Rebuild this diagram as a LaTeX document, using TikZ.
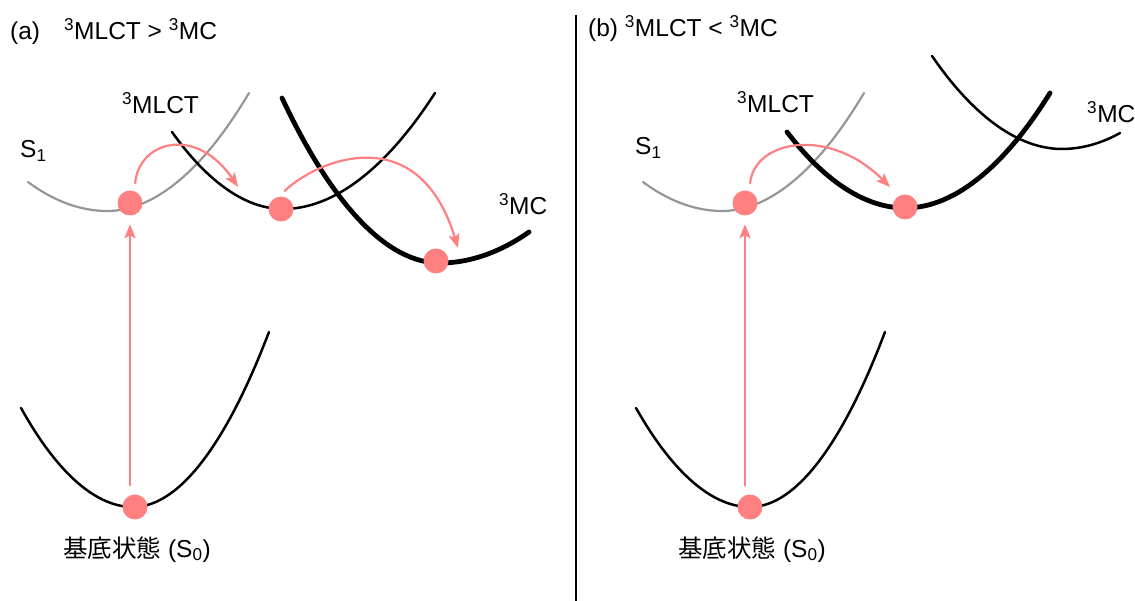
\documentclass[tikz,border=0pt]{standalone}
\usepackage{fontspec}
\setmainfont{Liberation Sans}
\newfontfamily\cjk{Noto Sans CJK JP}
\usetikzlibrary{arrows.meta}
\definecolor{salmon}{RGB}{255,128,128}
\definecolor{curvegray}{RGB}{150,150,150}
\begin{document}
\begin{tikzpicture}[x=1pt,y=-1pt,font=\fontsize{24.5}{28}\selectfont,line join=round,line cap=round,>={Stealth[length=14pt,width=11pt,inset=3pt]},
	ball/.style={circle,fill=salmon,minimum size=25pt,inner sep=0pt},
	txt/.style={inner sep=0pt,anchor=base west},
	jump/.style={salmon,line width=2.2pt,->},
	pesgray/.style={curvegray,line width=2.2pt},
	pesthin/.style={black,line width=2.5pt},
	pesthick/.style={black,line width=4.8pt}]
	\useasboundingbox (0,0) rectangle (1135,601);
	% (a)
	\path
	(130,203) coordinate (S1a)
	(281,209) coordinate (MLa)
	(436,261) coordinate (MCa)
	(135,507) coordinate (S0a)
	(238,187) coordinate (tipA1)
	(458,248) coordinate (tipA2)
	;
	\draw[pesgray] (28,182) parabola bend (107,211) (249,93);
	\draw[pesthin] (172,132) parabola bend (283,209) (435,93);
	\draw[pesthick] (282,98) parabola bend (440,263) (529,232);
	\draw[pesthin] (21,408) parabola bend (133,507) (269,332);
	\foreach \p in {S1a,MLa,MCa,S0a}
	\node[ball] (d\p) at (\p) {};
	\draw[jump,line width=2.6pt,shorten <=9pt,shorten >=8.5pt] (dS0a.north -| dS1a) -- (dS1a.south);
	\draw[jump,shorten <=8pt] (dS1a.70) .. controls +(5,-51) and +(-41,-61) .. (tipA1);
	\draw[jump,shorten <=8pt] (dMLa.100) .. controls +(40,-38) and +(-39,-129) .. (tipA2);
	\node[txt] (tagA) at (10,40) {(a)};
	\node[txt] (titleA) at (64,40) {\textsuperscript{3}MLCT > \textsuperscript{3}MC};
	\node[txt] (labS1a) at (20,158) {S\textsubscript{1}};
	\node[txt] (labMLa) at (122,114) {\textsuperscript{3}MLCT};
	\node[txt] (labMCa) at (499,215) {\textsuperscript{3}MC};
	\node[inner sep=0pt,anchor=base] (labS0a) at (137,557) {{\cjk 基底状態} (S\textsubscript{0})};
	% divider
	\draw[line width=2.8pt,line cap=butt] (576,15) -- (576,601);
	% (b)
	\path
	(745,203) coordinate (S1b)
	(905,207) coordinate (MLb)
	(750,507) coordinate (S0b)
	(890,187) coordinate (tipB)
	;
	\draw[pesgray] (643,182) parabola bend (722,211) (864,93);
	\draw[pesthin] (932,56) parabola bend (1062,149) (1120,133);
	\draw[pesthick] (787,132) parabola bend (905,208) (1050,93);
	\draw[pesthin] (636,408) parabola bend (750,507) (885,332);
	\foreach \p in {S1b,MLb,S0b}
	\node[ball] (d\p) at (\p) {};
	\draw[jump,line width=2.6pt,shorten <=9pt,shorten >=8.5pt] (dS0b.north -| dS1b) -- (dS1b.south);
	\draw[jump,shorten <=8pt] (dS1b.70) .. controls +(5,-51) and +(-61,-61) .. (tipB);
	\node[txt] (titleB) at (588,37) {(b) \textsuperscript{3}MLCT < \textsuperscript{3}MC};
	\node[txt] (labS1b) at (635,155) {S\textsubscript{1}};
	\node[txt] (labMLb) at (737,113) {\textsuperscript{3}MLCT};
	\node[txt] (labMCb) at (1087,123) {\textsuperscript{3}MC};
	\node[inner sep=0pt,anchor=base] (labS0b) at (752,557) {{\cjk 基底状態} (S\textsubscript{0})};
\end{tikzpicture}
\end{document}
